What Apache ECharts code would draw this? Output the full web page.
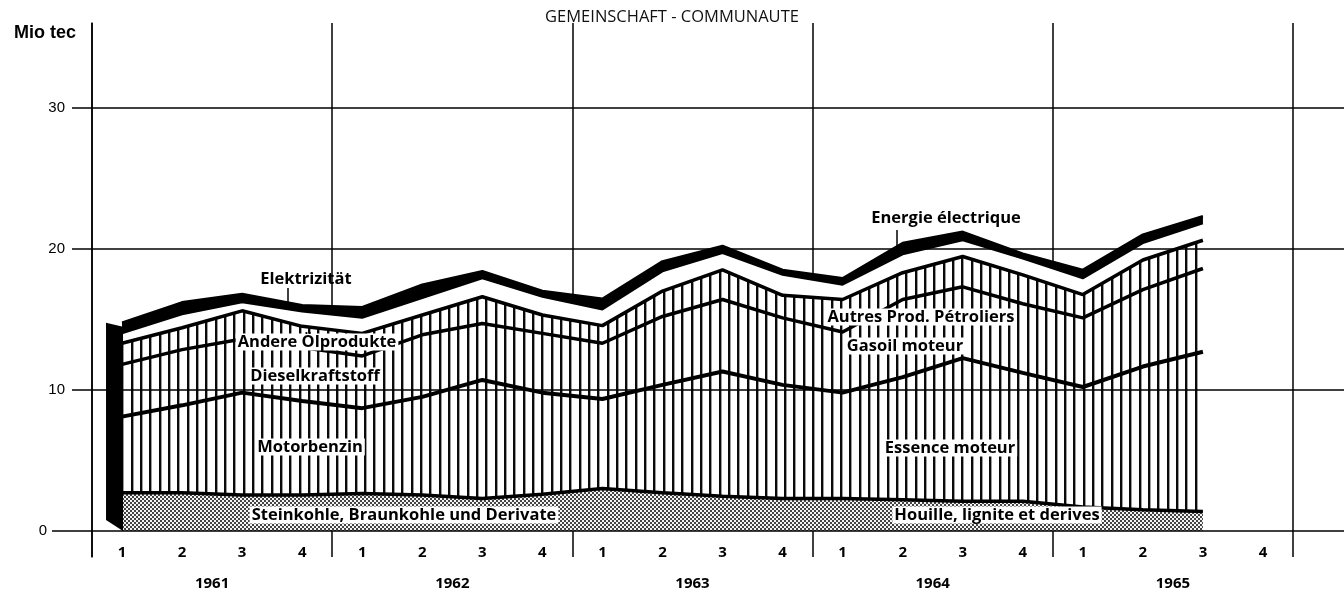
<!DOCTYPE html>
<html><head><meta charset="utf-8">
<script src="https://cdn.jsdelivr.net/npm/echarts@6/dist/echarts.min.js"></script>
<style>html,body{margin:0;padding:0;background:#fff}#c{width:1344px;height:597px}</style>
</head><body><div id="c"></div>
<script>
// ---- data (Mio tec, per quarter, 1961 Q1 .. 1965 Q3) ----
const quarters = ['1961-1','1961-2','1961-3','1961-4','1962-1','1962-2','1962-3','1962-4',
  '1963-1','1963-2','1963-3','1963-4','1964-1','1964-2','1964-3','1964-4',
  '1965-1','1965-2','1965-3','1965-4'];
const quarterLabels = ['1','2','3','4','1','2','3','4','1','2','3','4','1','2','3','4','1','2','3','4'];
const years = ['1961','1962','1963','1964','1965'];
const yTicks = [0, 10, 20, 30];
const coal        = [2.7,2.7,2.55,2.55,2.65,2.55,2.3,2.6,3.0,2.7,2.45,2.3,2.3,2.2,2.1,2.1,1.7,1.5,1.37];
const motorbenzin = [5.4,6.2,7.25,6.65,6.05,6.95,8.4,7.2,6.35,7.65,8.85,8.05,7.5,8.7,10.15,9.1,8.5,10.15,11.33];
const diesel      = [3.7,3.95,3.8,3.8,3.7,4.4,4.0,4.2,3.95,4.85,5.1,4.75,4.3,5.5,5.05,4.9,4.9,5.45,5.9];
const andereOel   = [1.5,1.55,2.0,1.5,1.6,1.4,1.9,1.3,1.25,1.8,2.1,1.6,2.3,1.9,2.15,2.05,1.65,2.1,2.0];
const elektrizitaet = [0.7,0.95,0.6,1.05,1.1,1.2,1.3,1.3,1.15,1.4,1.2,1.45,1.05,1.3,1.15,1.15,1.15,1.2,1.2];
const shadowEdge  = [0.75,0.85,0.6,0.45,0.75,0.95,0.5,0.4,0.75,0.7,0.5,0.35,0.45,0.8,0.6,0.35,0.6,0.6,0.5];

// ---- patterns ----
function hatch() {
  const c = document.createElement('canvas'); c.width = 28; c.height = 8;
  const g = c.getContext('2d');
  g.fillStyle = '#fff'; g.fillRect(0, 0, 28, 8);
  g.fillStyle = '#0a0a0a';
  [0, 9, 19].forEach(x => g.fillRect(x, 0, 2.4, 8));
  return c;
}
function stipple() {
  const c = document.createElement('canvas'); c.width = 4; c.height = 4;
  const g = c.getContext('2d');
  g.fillStyle = '#f4f4f4'; g.fillRect(0, 0, 4, 4);
  g.fillStyle = '#444';
  g.fillRect(0, 0, 2, 2); g.fillRect(2, 2, 2, 2);
  return c;
}
const hatchPat = { image: hatch(), repeat: 'repeat' };
const dotPat = { image: stipple(), repeat: 'repeat' };

const layers = [
  { name: 'Steinkohle', data: coal, fill: dotPat, lw: 3.5 },
  { name: 'Motorbenzin', data: motorbenzin, fill: hatchPat, lw: 4 },
  { name: 'Dieselkraftstoff', data: diesel, fill: hatchPat, lw: 3.5 },
  { name: 'Andere Ölprodukte', data: andereOel, fill: hatchPat, lw: 3.5 },
  { name: 'Elektrizität', data: elektrizitaet, fill: '#fff', lw: 2 },
  { name: 'edge', data: shadowEdge, fill: '#000', lw: 2.5 }
];

const series = [];
layers.forEach(l => series.push({
  type: 'line', name: l.name + '-area', data: l.data, stack: 'area',
  xAxisIndex: 0, yAxisIndex: 0, symbol: 'none', silent: true,
  lineStyle: { width: 0, opacity: 0 }, areaStyle: { color: l.fill, opacity: 1 }, z: 2
}));
layers.forEach(l => series.push({
  type: 'line', name: l.name + '-line', data: l.data, stack: 'line',
  xAxisIndex: 0, yAxisIndex: 0, symbol: 'none', silent: true,
  lineStyle: { width: l.lw, color: '#000' }, z: 3
}));
const total0 = layers.reduce((s, l) => s + l.data[0], 0);
series.push({
  type: 'custom', xAxisIndex: 0, yAxisIndex: 0, z: 5, silent: true,
  data: [[0, total0]],
  renderItem: (params, api) => {
    const top = api.coord([api.value(0), api.value(1)]);
    const base = api.coord([api.value(0), 0]);
    const d = 16;
    return { type: 'polygon', shape: { points: [
      [top[0] - d, top[1]], [top[0] + 1, top[1] + 4], [base[0] + 1, base[1]], [base[0] - d, base[1] - 11]
    ] }, style: { fill: '#000' } };
  }
});
// horizontal reference lines across full width
function refLines(xIdx, yIdx, values, dist) {
  return {
    type: 'line', xAxisIndex: xIdx, yAxisIndex: yIdx, data: [], silent: true,
    markLine: {
      silent: true, symbol: ['none', 'none'],
      lineStyle: { color: '#000', width: 1.5, type: 'solid' },
      label: { show: true, position: 'start', distance: dist, formatter: p => String(p.value),
        color: '#000', fontFamily: 'Liberation Sans', fontSize: 15 },
      data: values.map(v => ({ yAxis: v }))
    }
  };
}
series.push(refLines(2, 1, yTicks.filter(v => v !== 0), 7));
series.push(refLines(3, 2, yTicks.filter(v => v === 0), 5));

const bold = { fontFamily: 'Open Sans', fontWeight: 700, fontSize: 15, color: '#000' };
function label(text, x, y, bg) {
  return { type: 'text', x, y, z: 20, style: { text, font: 'bold 16.5px "Open Sans"', fill: '#000',
    align: 'center', verticalAlign: 'middle', backgroundColor: bg ? '#fff' : 'transparent', padding: bg ? [0, 2] : 0 } };
}
function arrow(x, y1, y2) {
  return { type: 'group', z: 20, children: [
    { type: 'line', shape: { x1: x, y1: y1, x2: x, y2: y2 - 4 }, style: { stroke: '#000', lineWidth: 1.5 } },
    { type: 'polygon', shape: { points: [[x - 3.5, y2 - 7], [x + 3.5, y2 - 7], [x, y2]] }, style: { fill: '#000' } }
  ] };
}

const chart = echarts.init(document.getElementById('c'), null, { renderer: 'canvas' });
chart.setOption({
  animation: false,
  backgroundColor: '#fff',
  title: { text: 'GEMEINSCHAFT - COMMUNAUTE', left: 'center', top: 4,
    textStyle: { fontFamily: 'Open Sans', fontWeight: 400, fontSize: 16.5, color: '#111' } },
  grid: [
    { left: 92, right: 51, top: 23, bottom: 40 },
    { left: 72, right: 0, top: 23, bottom: 40 },
    { left: 52, right: 0, top: 23, bottom: 40 }
  ],
  xAxis: [
    { type: 'category', gridIndex: 0, data: quarters, boundaryGap: true,
      axisLine: { show: false, onZero: false },
      axisTick: { show: false },
      axisLabel: { margin: -12, formatter: (v, i) => quarterLabels[i], ...bold, fontSize: 15 },
      splitLine: { show: true, interval: 3, lineStyle: { color: '#000', width: 1.5 } } },
    { type: 'category', gridIndex: 0, data: years, position: 'bottom',
      axisLine: { show: false, onZero: false }, axisTick: { show: false },
      axisLabel: { margin: 19, ...bold, fontSize: 15 }, splitLine: { show: false } },
    { type: 'value', gridIndex: 1, min: 0, max: 1, show: false },
    { type: 'value', gridIndex: 2, min: 0, max: 1, show: false }
  ],
  yAxis: [
    { type: 'value', gridIndex: 0, min: -1.85, max: 36,
      axisLine: { show: true, lineStyle: { color: '#000', width: 1.5 } },
      axisTick: { show: false }, axisLabel: { show: false }, splitLine: { show: false } },
    { type: 'value', gridIndex: 1, min: -1.85, max: 36, show: false, splitLine: { show: false } },
    { type: 'value', gridIndex: 2, min: -1.85, max: 36, show: false, splitLine: { show: false } }
  ],
  series,
  graphic: [
    { type: 'text', x: 76, y: 33, z: 20, style: { text: 'Mio tec', font: 'bold 18px "Liberation Sans"', fill: '#000', align: 'right', verticalAlign: 'middle' } },
    label('Elektrizität', 306, 279, false),
    arrow(288, 288, 320),
    label('Andere Ölprodukte', 317, 342, true),
    label('Dieselkraftstoff', 315, 376, true),
    label('Motorbenzin', 310, 447, true),
    label('Steinkohle, Braunkohle und Derivate', 404, 515, true),
    label('Energie électrique', 946, 218, false),
    arrow(897, 230, 272),
    label('Autres Prod. Pétroliers', 921, 317, true),
    label('Gasoil moteur', 905, 346, true),
    label('Essence moteur', 950, 448, true),
    label('Houille, lignite et derives', 997, 515, true)
  ]
});
</script>
</body></html>
